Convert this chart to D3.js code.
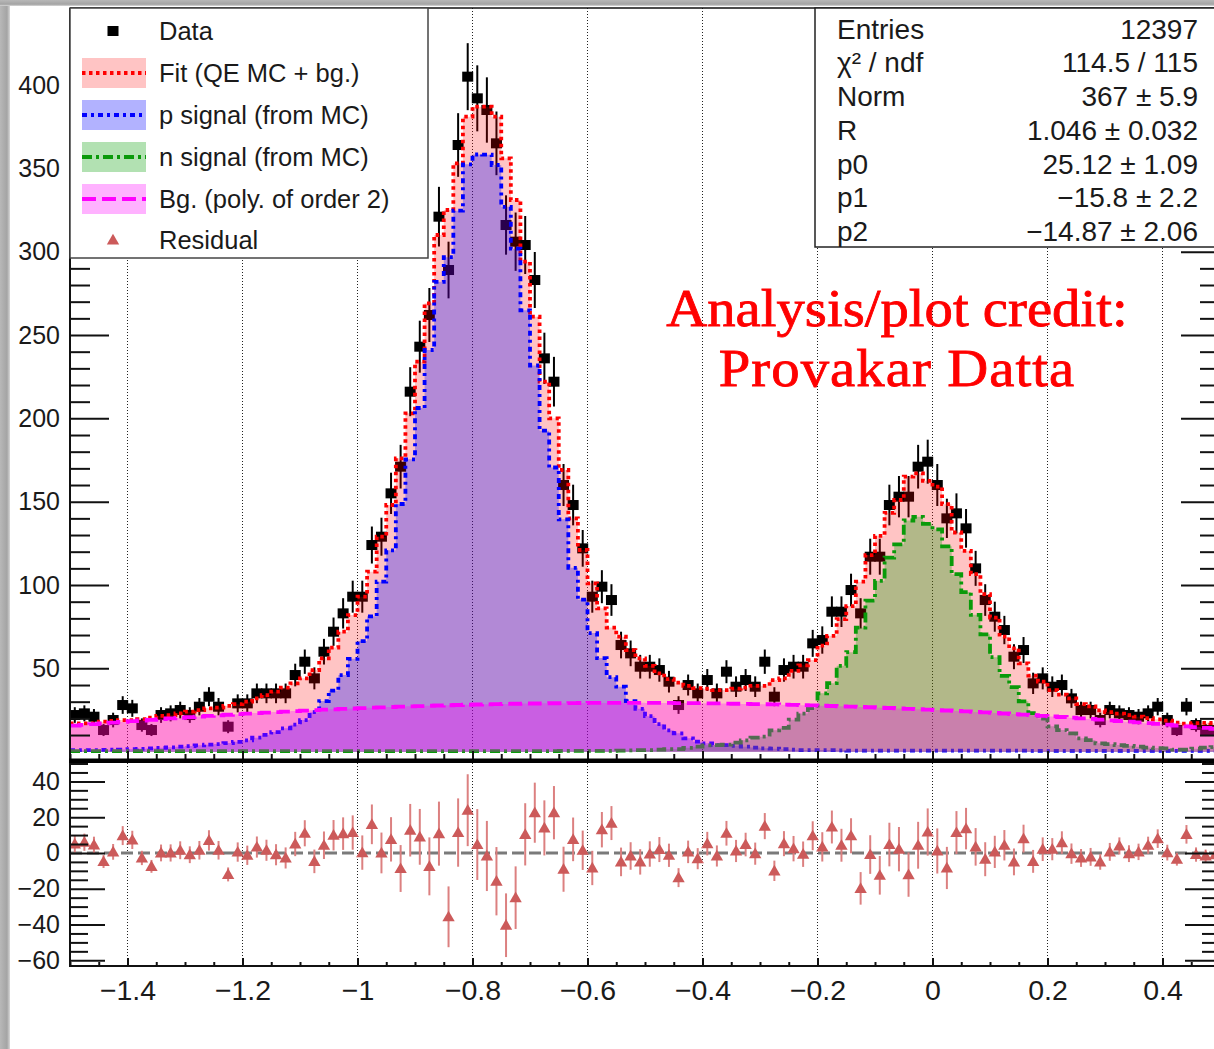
<!DOCTYPE html>
<html>
<head>
<meta charset="utf-8">
<script src="https://cdn.jsdelivr.net/npm/d3@7"></script>
<style>
  html, body { margin: 0; padding: 0; background: #fff; }
  svg { display: block; }
</style>
</head>
<body>
<svg id="chart" width="1214" height="1049"></svg>
<script>
// ---------------- histogram definition ----------------
const xMin = -1.5, xMax = 0.5, nBins = 120;

// measured counts per bin
const dataCounts = [
  22, 23, 21, 13, 19, 28, 26, 16, 13, 22, 23, 25, 22, 27, 33, 27, 15, 29, 29, 35,
  35, 35, 35, 46, 54, 44, 60, 72, 83, 93, 93, 124, 129, 155, 171, 216, 243, 262, 321, 289,
  364, 405, 392, 385, 365, 316, 306, 304, 283, 236, 222, 160, 148, 122, 93, 99, 91, 64, 59, 51,
  51, 49, 42, 28, 40, 35, 43, 35, 48, 39, 43, 39, 54, 33, 49, 51, 51, 65, 67, 84,
  84, 97, 83, 117, 117, 148, 153, 153, 171, 174, 160, 140, 143, 134, 110, 91, 81, 73, 57, 61,
  41, 44, 39, 40, 32, 25, 25, 19, 25, 23, 22, 21, 23, 27, 19, 13, 27, 16, 13, 13
];
// statistical uncertainty of each bin
const dataErrors = [
  4.7, 4.8, 4.6, 3.6, 4.4, 5.3, 5.1, 4.0, 3.6, 4.7, 4.8, 5.0, 4.7, 5.2, 5.7, 5.2, 3.9, 5.4, 5.4, 5.9,
  5.9, 5.9, 5.9, 6.8, 7.3, 6.6, 7.7, 8.5, 9.1, 9.6, 9.6, 11.1, 11.4, 12.4, 13.1, 14.7, 15.6, 16.2, 17.9, 17.0,
  19.1, 20.1, 19.8, 19.6, 19.1, 17.8, 17.5, 17.4, 16.8, 15.4, 14.9, 12.6, 12.2, 11.0, 9.6, 9.9, 9.5, 8.0, 7.7, 7.1,
  7.1, 7.0, 6.5, 5.3, 6.3, 5.9, 6.6, 5.9, 6.9, 6.2, 6.6, 6.2, 7.3, 5.7, 7.0, 7.1, 7.1, 8.1, 8.2, 9.2,
  9.2, 9.8, 9.1, 10.8, 10.8, 12.2, 12.4, 12.4, 13.1, 13.2, 12.6, 11.8, 12.0, 11.6, 10.5, 9.5, 9.0, 8.5, 7.5, 7.8,
  6.4, 6.6, 6.2, 6.3, 5.7, 5.0, 5.0, 4.4, 5.0, 4.8, 4.7, 4.6, 4.8, 5.2, 4.4, 3.6, 5.2, 4.0, 3.6, 3.6
];
// total fit (QE MC + background)
const fitValues = [
  17, 17, 17, 18, 18.5, 19, 19, 19.5, 20.5, 21.5, 22, 23, 24, 25, 26, 26.5, 27.5, 28.5, 30, 32,
  34, 36, 38.5, 41, 44, 49, 56, 62.5, 72, 82, 93, 108, 129, 148, 176, 203, 234, 269, 310, 325,
  353, 381, 387, 387, 381, 356, 331, 294, 261, 222, 200, 169, 140, 121, 101, 86, 74.5, 69, 61, 56,
  51.5, 47, 43.5, 41.5, 39.5, 38.2, 37.8, 37, 37, 37.8, 38.5, 39.5, 39.5, 43, 44, 48.5, 51.8, 55, 63.6, 69.5,
  79.5, 87.4, 102, 118, 129.5, 143.3, 151, 165, 167, 162.5, 159, 148.5, 131.5, 120.5, 106.5, 94.5, 80.5, 69, 62, 53,
  45.7, 42, 37, 34.3, 32, 28.5, 27.2, 24.8, 23.8, 22.9, 22, 21, 20.1, 19.4, 18.7, 17.4, 16.9, 17.1, 17.3, 17.1
];
// proton signal template
const pSignal = [
  1.0, 0.9, 0.9, 1.1, 1.2, 1.3, 1.5, 1.7, 2.0, 2.3, 2.6, 3.0, 3.4, 3.8, 4.2, 4.6, 5.2, 5.9, 6.8, 8.4,
  10.1, 11.8, 14, 16.2, 19, 23.7, 30.4, 36.7, 46, 55.7, 66.4, 81.2, 102, 120.8, 148.6, 175.4, 206.2, 241, 281.9, 296.7,
  324.6, 352.4, 358.3, 358.2, 352, 326.9, 301.8, 264.8, 231.7, 192.6, 170.5, 139.4, 110.3, 91.3, 71.2, 56.2, 44.7, 39, 30.4, 25.7,
  21.3, 16.5, 12.8, 11, 8, 6, 5, 4, 4, 3.5, 3, 2.5, 2, 1.8, 1.5, 1.2, 1, 1, 1, 1,
  0.8, 0.6, 0.6, 0.6, 0.6, 0.6, 0.6, 0.6, 0.6, 0.6, 0.6, 0.6, 0.6, 0.6, 0.6, 0.6, 0.6, 0.6, 0.6, 0.6,
  0.5, 0.5, 0.5, 0.5, 0.5, 0.5, 0.5, 0.5, 0.5, 0.5, 0.5, 0.5, 0.5, 0.5, 0.5, 0.5, 0.5, 0.5, 0.5, 0.5
];
// neutron signal template
const nSignal = [
  0.4, 0.4, 0.4, 0.4, 0.4, 0.4, 0.4, 0.4, 0.4, 0.4, 0.4, 0.4, 0.4, 0.4, 0.4, 0.4, 0.4, 0.4, 0.4, 0.4,
  0.4, 0.4, 0.4, 0.4, 0.4, 0.4, 0.4, 0.4, 0.4, 0.4, 0.4, 0.4, 0.4, 0.4, 0.4, 0.4, 0.4, 0.4, 0.4, 0.4,
  0.4, 0.4, 0.4, 0.4, 0.4, 0.4, 0.4, 0.4, 0.4, 0.4, 0.4, 0.5, 0.5, 0.5, 0.5, 0.5, 0.5, 0.7, 0.8, 1.0,
  1.0, 1.2, 1.5, 1.5, 2.3, 3, 3.8, 4, 4.2, 5.5, 6.8, 8.4, 9, 12.8, 14.3, 19.2, 22.9, 26.2, 35, 41.1,
  51.5, 59.7, 74.5, 90.7, 102.5, 116.5, 124.4, 138.7, 140.9, 136.7, 133.4, 123.2, 106.5, 95.8, 82.1, 70.4, 56.7, 45.5, 38.8, 30.2,
  23.2, 19.9, 15.2, 13, 11, 8, 7, 5, 4.5, 4, 3.5, 3, 2.5, 2.2, 2, 1.2, 1.2, 1.8, 2.5, 2.8
];
// quadratic background per bin
const bgValues = [
  15.60, 16.07, 16.54, 16.99, 17.44, 17.88, 18.31, 18.73, 19.15, 19.55, 19.95, 20.34, 20.72, 21.09, 21.46, 21.81, 22.16, 22.50, 22.83, 23.16,
  23.47, 23.78, 24.08, 24.37, 24.65, 24.92, 25.19, 25.44, 25.69, 25.93, 26.17, 26.39, 26.61, 26.81, 27.01, 27.20, 27.39, 27.56, 27.73, 27.88,
  28.03, 28.18, 28.31, 28.43, 28.55, 28.66, 28.76, 28.85, 28.93, 29.01, 29.08, 29.14, 29.19, 29.23, 29.26, 29.29, 29.31, 29.32, 29.32, 29.31,
  29.29, 29.27, 29.24, 29.20, 29.15, 29.09, 29.03, 28.95, 28.87, 28.78, 28.69, 28.58, 28.46, 28.34, 28.21, 28.07, 27.92, 27.77, 27.60, 27.43,
  27.25, 27.06, 26.86, 26.66, 26.44, 26.22, 25.99, 25.75, 25.51, 25.25, 24.99, 24.72, 24.44, 24.15, 23.85, 23.55, 23.24, 22.91, 22.58, 22.25,
  21.90, 21.55, 21.18, 20.81, 20.43, 20.05, 19.65, 19.25, 18.84, 18.42, 17.99, 17.55, 17.11, 16.65, 16.19, 15.72, 15.24, 14.76, 14.26, 13.76
];
// data minus fit
const residuals = [
  5, 6, 4.5, -4.8, 0.6, 9.7, 7.3, -2.8, -7.5, 0, 0, 1.5, -1, 1.5, 7, 1.5, -12, 0.5, -1.3, 3.3,
  1.5, -1, -2.8, 5, 11, -4.7, 4.3, 9.9, 10.8, 11.4, 0.2, 16, 0, 7.6, -8.7, 12.7, 9, -7.5, 10.8, -35.7,
  11.4, 23.9, 4.7, -1.7, -15.8, -40.4, -25, 10.4, 22.5, 14, 22.5, -9.1, 7.6, 1.5, -8.4, 13, 16.7, -5, -1.7, -5,
  -0.6, 1.9, -1.3, -13.8, 0.6, -3.2, 5.2, -1.7, 11, 1.1, 4.7, -0.4, 15, -10, 5.2, 2.4, -0.7, 9.6, 3.4, 14.5,
  4.3, 9.6, -19.8, -0.9, -12.5, 4.7, 2.1, -12.1, 4.3, 11.7, 1.1, -8.4, 11.4, 13.6, 3.4, -3.5, 0.6, 4.3, -5, 8,
  -4.7, 2.1, 2.1, 5.8, -0.4, -2.8, -2.2, -5, 0.6, 3.9, -0.4, 0.6, 4.3, 8, 0.2, -3.5, 10.4, -0.9, -1.7, -1
];

// ---------------- axis ticks ----------------
const xTickValues = [-1.4, -1.2, -1, -0.8, -0.6, -0.4, -0.2, 0, 0.2, 0.4];
const xMinorStep = 0.05;
const yTopTickValues = [50, 100, 150, 200, 250, 300, 350, 400];
const yTopMinorStep = 10;
const yBotTickValues = [-60, -40, -20, 0, 20, 40];
const yBotMinorStep = 5;

// ---------------- legend & statistics ----------------
const legendLabels = ["Data", "Fit (QE MC + bg.)", "p signal (from MC)", "n signal (from MC)", "Bg. (poly. of order 2)", "Residual"];
const statsLabels = ["Entries", "χ² / ndf", "Norm", "R", "p0", "p1", "p2"];
const statsValues = ["12397", "114.5 / 115", "367 ± 5.9", "1.046 ± 0.032", "25.12 ± 1.09", "−15.8 ± 2.2", "−14.87 ± 2.06"];
const creditLines = ["Analysis/plot credit:", "Provakar Datta"];

// ---------------- styles ----------------
const sans = "'Liberation Sans', Arial, Helvetica, sans-serif";
const serif = "'Liberation Serif', 'Times New Roman', serif";
const col = {
  fitFill: "rgba(255,0,0,0.23)", fitLine: "#ff0000",
  pFill: "rgba(0,0,255,0.30)", pLine: "#0000ff",
  nFill: "rgba(0,155,0,0.30)", nLine: "#0a9a0a",
  bgFill: "rgba(255,0,255,0.30)", bgLine: "#ff00ff",
  resid: "#cc5a5a", residBar: "#dc8080"
};
const dash = { fit: "3.5,3.5", p: "5,4,3,4", n: "10,4,3,4", bg: "14,6" };
const histWidth = 3.8;

const svg = d3.select("#chart");
const W = 1214, H = 1049;
const L = 70, R = 1220, T = 8, upBottom = 759, lowTop = 763, lowBottom = 966;

const x = d3.scaleLinear().domain([xMin, xMax]).range([L, R]);
const yTop = d3.scaleLinear().domain([0, 446.2]).range([751.7, T]);
const yBot = d3.scaleLinear().domain([-63.2, 51.4]).range([lowBottom, 761]);

const edges = d3.range(nBins + 1).map(i => xMin + i * (xMax - xMin) / nBins);
const centers = d3.range(nBins).map(i => (edges[i] + edges[i + 1]) / 2);

// window edge shading
const defs = svg.append("defs");
const gl = defs.append("linearGradient").attr("id", "edgeL").attr("x1", 0).attr("x2", 1).attr("y1", 0).attr("y2", 0);
gl.append("stop").attr("offset", "0%").attr("stop-color", "#b8b8b8");
gl.append("stop").attr("offset", "70%").attr("stop-color", "#a4a4a4");
gl.append("stop").attr("offset", "100%").attr("stop-color", "#d8d8d8");
const gt = defs.append("linearGradient").attr("id", "edgeT").attr("x1", 0).attr("x2", 0).attr("y1", 0).attr("y2", 1);
gt.append("stop").attr("offset", "0%").attr("stop-color", "#b8b8b8");
gt.append("stop").attr("offset", "70%").attr("stop-color", "#a4a4a4");
gt.append("stop").attr("offset", "100%").attr("stop-color", "#d8d8d8");
defs.append("clipPath").attr("id", "clipUp").append("rect").attr("x", L).attr("y", T).attr("width", R - L).attr("height", upBottom - T);
defs.append("clipPath").attr("id", "clipLow").append("rect").attr("x", L).attr("y", lowTop).attr("width", R - L).attr("height", lowBottom - lowTop);

svg.append("rect").attr("width", W).attr("height", H).attr("fill", "#fff");
svg.append("rect").attr("x", 0).attr("y", 0).attr("width", 10).attr("height", H).attr("fill", "url(#edgeL)");
svg.append("rect").attr("x", 0).attr("y", 0).attr("width", W).attr("height", 6).attr("fill", "url(#edgeT)");

// ---------------- upper pad ----------------
const up = svg.append("g").attr("clip-path", "url(#clipUp)");

// vertical grid
up.selectAll("line.grid").data(xTickValues).join("line")
  .attr("x1", d => x(d)).attr("x2", d => x(d)).attr("y1", T).attr("y2", upBottom)
  .attr("stroke", "#222").attr("stroke-width", 1).attr("stroke-dasharray", "1,2");

// data points (drawn first, the translucent templates sit on top)
const dataG = up.append("g");
dataG.selectAll("line").data(dataCounts).join("line")
  .attr("x1", (d, i) => x(centers[i])).attr("x2", (d, i) => x(centers[i]))
  .attr("y1", (d, i) => yTop(d - dataErrors[i])).attr("y2", (d, i) => yTop(d + dataErrors[i]))
  .attr("stroke", "#000").attr("stroke-width", 2);
dataG.selectAll("rect").data(dataCounts).join("rect")
  .attr("x", (d, i) => x(centers[i]) - 5.5).attr("y", d => yTop(d) - 5)
  .attr("width", 11).attr("height", 10).attr("fill", "#000");

function stepPoints(vals) {
  const pts = vals.map((v, i) => [edges[i], v]);
  pts.push([edges[nBins], vals[nBins - 1]]);
  return pts;
}
const area = d3.area().x(d => x(d[0])).y0(yTop(0)).y1(d => yTop(d[1])).curve(d3.curveStepAfter);
const line = d3.line().x(d => x(d[0])).y(d => yTop(d[1])).curve(d3.curveStepAfter);

function drawHist(vals, fill, stroke, dashArr) {
  const pts = stepPoints(vals);
  up.append("path").attr("d", area(pts)).attr("fill", fill).attr("stroke", "none");
  up.append("path").attr("d", line(pts)).attr("fill", "none").attr("stroke", stroke)
    .attr("stroke-width", histWidth).attr("stroke-dasharray", dashArr);
}
drawHist(fitValues, col.fitFill, col.fitLine, dash.fit);
drawHist(pSignal, col.pFill, col.pLine, dash.p);
drawHist(nSignal, col.nFill, col.nLine, dash.n);
drawHist(bgValues, col.bgFill, col.bgLine, dash.bg);

// upper axes
const tickText = g => g.selectAll("text").attr("font-family", sans).attr("font-size", 25).attr("fill", "#1a1a1a");
const yTopMinor = d3.range(10, 446, yTopMinorStep).filter(v => v % 50 !== 0);
svg.append("g").attr("transform", `translate(${L},0)`)
  .call(d3.axisLeft(yTop).tickValues(yTopMinor).tickSizeInner(-20).tickSizeOuter(0).tickFormat(""))
  .call(g => g.select(".domain").remove()).call(g => g.selectAll("line").attr("stroke", "#111").attr("stroke-width", 2));
svg.append("g").attr("transform", `translate(${L},0)`)
  .call(d3.axisLeft(yTop).tickValues(yTopTickValues).tickSizeInner(-39).tickSizeOuter(0).tickPadding(10).tickFormat(d3.format("~g")))
  .call(g => g.select(".domain").remove()).call(g => g.selectAll("line").attr("stroke", "#111").attr("stroke-width", 2))
  .call(tickText);
svg.append("g").attr("transform", `translate(${R},0)`)
  .call(d3.axisRight(yTop).tickValues(yTopMinor).tickSizeInner(-20).tickSizeOuter(0).tickFormat(""))
  .call(g => g.select(".domain").remove()).call(g => g.selectAll("line").attr("stroke", "#111").attr("stroke-width", 2));
svg.append("g").attr("transform", `translate(${R},0)`)
  .call(d3.axisRight(yTop).tickValues(yTopTickValues).tickSizeInner(-39).tickSizeOuter(0).tickFormat(""))
  .call(g => g.select(".domain").remove()).call(g => g.selectAll("line").attr("stroke", "#111").attr("stroke-width", 2));

const xMinor = d3.range(-1.5, 0.5001, xMinorStep).filter(v => !xTickValues.some(t => Math.abs(t - v) < 1e-6));
svg.append("g").attr("transform", `translate(0,${upBottom})`)
  .call(d3.axisBottom(x).tickValues(xMinor).tickSizeInner(-5).tickSizeOuter(0).tickFormat(""))
  .call(g => g.select(".domain").remove()).call(g => g.selectAll("line").attr("stroke", "#111").attr("stroke-width", 2));
svg.append("g").attr("transform", `translate(0,${upBottom})`)
  .call(d3.axisBottom(x).tickValues(xTickValues).tickSizeInner(-8).tickSizeOuter(0).tickFormat(""))
  .call(g => g.select(".domain").remove()).call(g => g.selectAll("line").attr("stroke", "#111").attr("stroke-width", 2));

// upper frame
svg.append("line").attr("x1", L).attr("x2", L).attr("y1", T).attr("y2", upBottom).attr("stroke", "#111").attr("stroke-width", 2);
svg.append("line").attr("x1", L).attr("x2", R).attr("y1", T).attr("y2", T).attr("stroke", "#111").attr("stroke-width", 1.5);
svg.append("rect").attr("x", L - 1).attr("y", upBottom - 0.5).attr("width", R - L + 2).attr("height", 4.5).attr("fill", "#000");

// ---------------- lower pad ----------------
const low = svg.append("g").attr("clip-path", "url(#clipLow)");
low.selectAll("line.grid").data(xTickValues).join("line")
  .attr("x1", d => x(d)).attr("x2", d => x(d)).attr("y1", lowTop).attr("y2", lowBottom)
  .attr("stroke", "#222").attr("stroke-width", 1).attr("stroke-dasharray", "1,2");
low.append("line").attr("x1", L).attr("x2", R).attr("y1", yBot(0)).attr("y2", yBot(0))
  .attr("stroke", "#7a7a7a").attr("stroke-width", 3).attr("stroke-dasharray", "12,5");
low.selectAll("line.rbar").data(residuals).join("line")
  .attr("x1", (d, i) => x(centers[i])).attr("x2", (d, i) => x(centers[i]))
  .attr("y1", (d, i) => yBot(d - dataErrors[i])).attr("y2", (d, i) => yBot(d + dataErrors[i]))
  .attr("stroke", col.residBar).attr("stroke-width", 2);
const tri = d3.symbol().type(d3.symbolTriangle).size(66);
low.selectAll("path.rm").data(residuals).join("path")
  .attr("transform", (d, i) => `translate(${x(centers[i])},${yBot(d) + 1})`)
  .attr("d", tri()).attr("fill", col.resid);

const yBotMinor = d3.range(-60, 51, yBotMinorStep).filter(v => v % 20 !== 0);
svg.append("g").attr("transform", `translate(${L},0)`)
  .call(d3.axisLeft(yBot).tickValues(yBotMinor).tickSizeInner(-18).tickSizeOuter(0).tickFormat(""))
  .call(g => g.select(".domain").remove()).call(g => g.selectAll("line").attr("stroke", "#111").attr("stroke-width", 2));
svg.append("g").attr("transform", `translate(${L},0)`)
  .call(d3.axisLeft(yBot).tickValues(yBotTickValues).tickSizeInner(-35).tickSizeOuter(0).tickPadding(10).tickFormat(d3.format("~g")))
  .call(g => g.select(".domain").remove()).call(g => g.selectAll("line").attr("stroke", "#111").attr("stroke-width", 2))
  .call(tickText);
svg.append("g").attr("transform", `translate(${R},0)`)
  .call(d3.axisRight(yBot).tickValues(yBotMinor).tickSizeInner(-18).tickSizeOuter(0).tickFormat(""))
  .call(g => g.select(".domain").remove()).call(g => g.selectAll("line").attr("stroke", "#111").attr("stroke-width", 2));
svg.append("g").attr("transform", `translate(${R},0)`)
  .call(d3.axisRight(yBot).tickValues(yBotTickValues).tickSizeInner(-35).tickSizeOuter(0).tickFormat(""))
  .call(g => g.select(".domain").remove()).call(g => g.selectAll("line").attr("stroke", "#111").attr("stroke-width", 2));

svg.append("g").attr("transform", `translate(0,${lowBottom})`)
  .call(d3.axisBottom(x).tickValues(xMinor).tickSizeInner(-4).tickSizeOuter(0).tickFormat(""))
  .call(g => g.select(".domain").remove()).call(g => g.selectAll("line").attr("stroke", "#111").attr("stroke-width", 2));
svg.append("g").attr("transform", `translate(0,${lowBottom})`)
  .call(d3.axisBottom(x).tickValues(xTickValues).tickSizeInner(-8).tickSizeOuter(0).tickPadding(14).tickFormat(d3.format("~g")))
  .call(g => g.select(".domain").remove()).call(g => g.selectAll("line").attr("stroke", "#111").attr("stroke-width", 2))
  .call(g => g.selectAll("text").attr("font-family", sans).attr("font-size", 28.5).attr("fill", "#1a1a1a"));

svg.append("line").attr("x1", L).attr("x2", L).attr("y1", lowTop).attr("y2", lowBottom + 1).attr("stroke", "#111").attr("stroke-width", 2);
svg.append("line").attr("x1", L).attr("x2", R).attr("y1", lowBottom).attr("y2", lowBottom).attr("stroke", "#111").attr("stroke-width", 2);

// ---------------- legend ----------------
const leg = svg.append("g");
leg.append("rect").attr("x", L).attr("y", T).attr("width", 428 - L).attr("height", 258 - T)
  .attr("fill", "#fff").attr("stroke", "#444").attr("stroke-width", 1.5);
const legRowY = [31, 73, 115, 157, 199, 240];
const legStyles = [
  { type: "square" },
  { type: "box", fill: col.fitFill, stroke: col.fitLine, dash: dash.fit },
  { type: "box", fill: col.pFill, stroke: col.pLine, dash: dash.p },
  { type: "box", fill: col.nFill, stroke: col.nLine, dash: dash.n },
  { type: "box", fill: col.bgFill, stroke: col.bgLine, dash: dash.bg },
  { type: "triangle" }
];
legendLabels.forEach((lab, i) => {
  const cy = legRowY[i], st = legStyles[i];
  if (st.type === "square") {
    leg.append("rect").attr("x", 113 - 5.5).attr("y", cy - 5).attr("width", 11).attr("height", 10).attr("fill", "#000");
  } else if (st.type === "triangle") {
    leg.append("path").attr("transform", `translate(113,${cy + 1})`).attr("d", tri()).attr("fill", col.resid);
  } else {
    leg.append("rect").attr("x", 82).attr("y", cy - 15).attr("width", 64).attr("height", 30).attr("fill", st.fill);
    leg.append("line").attr("x1", 82).attr("x2", 146).attr("y1", cy).attr("y2", cy)
      .attr("stroke", st.stroke).attr("stroke-width", histWidth).attr("stroke-dasharray", st.dash);
  }
  leg.append("text").attr("x", 159).attr("y", cy + 9).attr("font-family", sans).attr("font-size", 25.5)
    .attr("fill", "#1a1a1a").text(lab);
});

// ---------------- statistics box ----------------
const stats = svg.append("g");
stats.append("rect").attr("x", 815).attr("y", T).attr("width", 420).attr("height", 247 - T)
  .attr("fill", "#fff").attr("stroke", "#222").attr("stroke-width", 1.5);
const statsRowY = [29, 62, 96, 130, 164, 197, 231];
statsLabels.forEach((lab, i) => {
  stats.append("text").attr("x", 837).attr("y", statsRowY[i] + 10).attr("font-family", sans).attr("font-size", 28)
    .attr("fill", "#1a1a1a").text(lab);
  stats.append("text").attr("x", 1198).attr("y", statsRowY[i] + 10).attr("text-anchor", "end").attr("font-family", sans)
    .attr("font-size", 28).attr("fill", "#1a1a1a").text(statsValues[i]);
});

// ---------------- credit ----------------
const creditY = [326, 386];
const creditSpacing = [0, 1];
creditLines.forEach((t, i) => {
  svg.append("text")
    .attr("transform", `translate(897,${creditY[i]}) scale(1.07,1)`)
    .attr("text-anchor", "middle")
    .attr("font-family", serif).attr("font-size", 53).attr("letter-spacing", creditSpacing[i])
    .attr("fill", "#ff0000").attr("stroke", "#ff0000").attr("stroke-width", 0.8).text(t);
});
</script>
</body>
</html>
